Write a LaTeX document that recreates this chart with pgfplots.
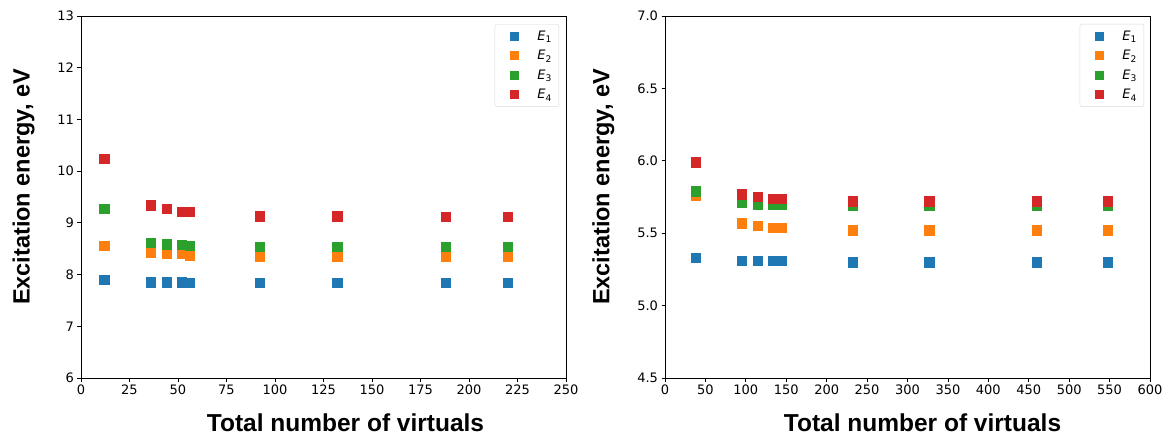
\documentclass[border=0pt]{standalone}
\usepackage{fontspec}
\setmainfont{DejaVu Sans}
\newfontfamily\labelfont{Liberation Sans}
\usepackage{pgfplots}
\pgfplotsset{compat=1.18}
\definecolor{c1}{HTML}{1F77B4}
\definecolor{c2}{HTML}{FF7F0E}
\definecolor{c3}{HTML}{2CA02C}
\definecolor{c4}{HTML}{D62728}
\pgfplotsset{
  mystyle/.style={
    width=485pt, height=362pt, scale only axis,
    axis line style={black, line width=0.8pt},
    tick align=outside, xtick pos=bottom, ytick pos=left,
    major tick length=3.5pt,
    every tick/.style={black, line width=0.8pt},
    ticklabel style={font=\fontsize{13}{15}\selectfont},
    /pgf/number format/assume math mode=true,
    xlabel style={font=\labelfont\bfseries\fontsize{24.5}{28}\selectfont, yshift=-12pt},
    ylabel style={font=\labelfont\bfseries\fontsize{23.5}{28}\selectfont, yshift=16pt, xshift=10pt},
    xlabel={Total number of virtuals},
    ylabel={Excitation energy, eV},
    only marks,
    legend cell align=left,
    legend image code/.code={
      \path (0pt,0pt) (32pt,0pt);
      \draw[#1, mark size=4pt] plot coordinates {(14pt,0pt)};
    },
    legend style={at={(1,1)}, anchor=north east, xshift=-7pt, yshift=-8pt,
      draw=black!15, rounded corners=2pt, font=\fontsize{13}{15}\selectfont,
      row sep=4.5pt, inner xsep=5pt, inner ysep=4.5pt,
      /tikz/every odd column/.style={column sep=3pt}},
  },
  s1/.style={mark=square*, mark size=4.65pt, color=c1, mark options={draw=none, fill=c1}},
  s2/.style={mark=square*, mark size=4.65pt, color=c2, mark options={draw=none, fill=c2}},
  s3/.style={mark=square*, mark size=4.65pt, color=c3, mark options={draw=none, fill=c3}},
  s4/.style={mark=square*, mark size=4.65pt, color=c4, mark options={draw=none, fill=c4}},
}
\begin{document}
\begin{tikzpicture}
\begin{axis}[mystyle, xmin=0, xmax=250, ymin=6, ymax=13,
  xtick={0,25,...,250}, ytick={6,7,...,13},
  xlabel style={xshift=22pt}]
\addplot+[s1] coordinates {(12,7.90) (36,7.85) (44,7.85) (52,7.85) (56,7.84) (92,7.84) (132,7.84) (188,7.84) (220,7.84)};
\addlegendentry{\textit{E}\textsubscript{1}}
\addplot+[s2] coordinates {(12,8.56) (36,8.42) (44,8.41) (52,8.40) (56,8.37) (92,8.35) (132,8.35) (188,8.35) (220,8.35)};
\addlegendentry{\textit{E}\textsubscript{2}}
\addplot+[s3] coordinates {(12,9.28) (36,8.61) (44,8.59) (52,8.58) (56,8.555) (92,8.535) (132,8.535) (188,8.535) (220,8.535)};
\addlegendentry{\textit{E}\textsubscript{3}}
\addplot+[s4] coordinates {(12,10.24) (36,9.34) (44,9.28) (52,9.21) (56,9.21) (92,9.13) (132,9.13) (188,9.12) (220,9.12)};
\addlegendentry{\textit{E}\textsubscript{4}}
\end{axis}
\begin{axis}[mystyle, at={(584pt,0pt)}, xmin=0, xmax=600, ymin=4.5, ymax=7,
  xtick={0,50,...,600}, ytick={4.5,5.0,...,7.0},
  xlabel style={xshift=15pt},
  legend style={xshift=1pt},
  yticklabel style={/pgf/number format/fixed, /pgf/number format/fixed zerofill, /pgf/number format/precision=1}]
\addplot+[s1] coordinates {(38,5.33) (95,5.31) (115,5.31) (134,5.31) (144,5.31) (232,5.30) (327,5.30) (460,5.30) (548,5.30)};
\addlegendentry{\textit{E}\textsubscript{1}}
\addplot+[s2] coordinates {(38,5.76) (95,5.57) (115,5.55) (134,5.54) (144,5.54) (232,5.52) (327,5.52) (460,5.52) (548,5.52)};
\addlegendentry{\textit{E}\textsubscript{2}}
\addplot+[s3] coordinates {(38,5.79) (95,5.71) (115,5.70) (134,5.70) (144,5.70) (232,5.69) (327,5.69) (460,5.69) (548,5.69)};
\addlegendentry{\textit{E}\textsubscript{3}}
\addplot+[s4] coordinates {(38,5.99) (95,5.77) (115,5.75) (134,5.74) (144,5.74) (232,5.72) (327,5.72) (460,5.72) (548,5.72)};
\addlegendentry{\textit{E}\textsubscript{4}}
\end{axis}
\pgfresetboundingbox
\path[use as bounding box] (-81pt,-59pt) rectangle (1086pt,378pt);
\end{tikzpicture}
\end{document}
